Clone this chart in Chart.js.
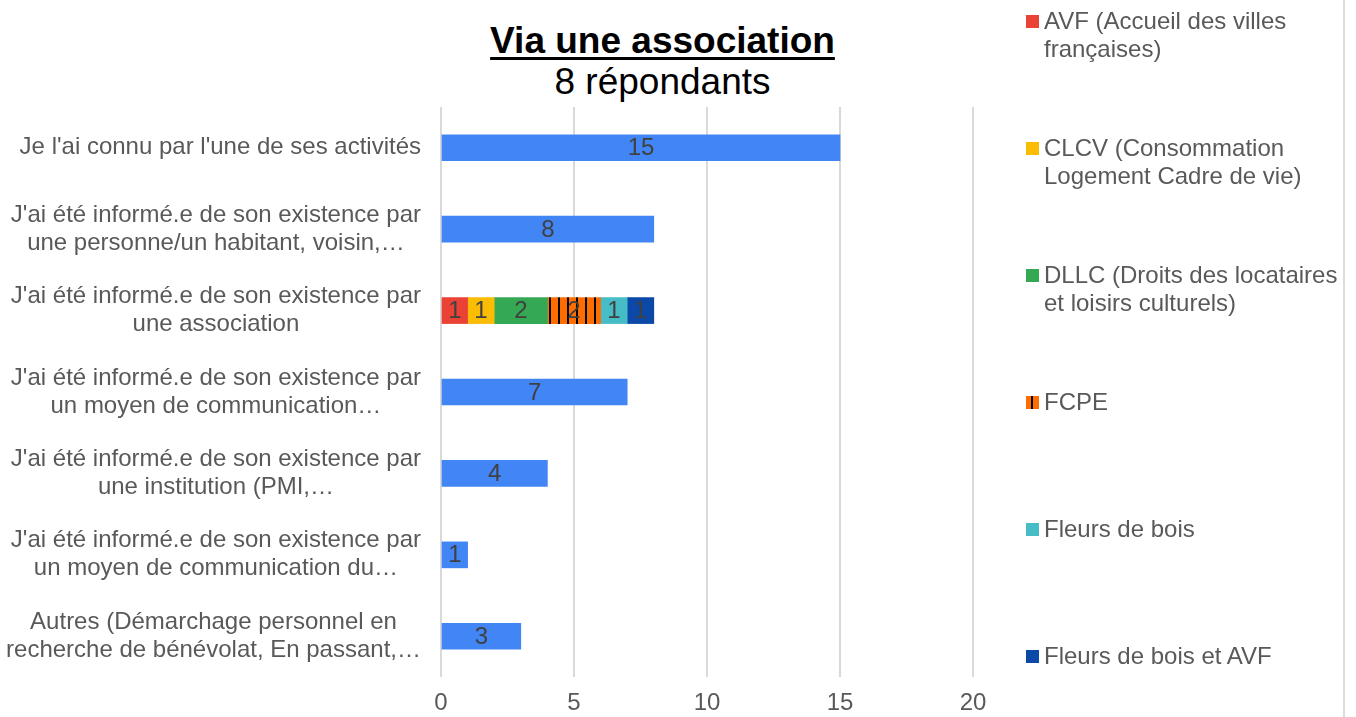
<!DOCTYPE html>
<html lang="fr">
<head>
<meta charset="utf-8">
<title>Via une association</title>
<script src="https://cdn.jsdelivr.net/npm/chart.js@4.4.1/dist/chart.umd.min.js"></script>
<style>
    html, body { margin: 0; padding: 0; background: #fff; }
    body { width: 1356px; height: 717px; position: relative; overflow: hidden; font-family: "Liberation Sans", Arial, sans-serif; }
    #zone { position: absolute; left: 0; top: 0; width: 1356px; height: 717px; }
    .titre { position: absolute; left: 0; width: 1325px; text-align: center; color: #000; font-size: 37px; line-height: 37px; }
    #titre1 { top: 22px; font-weight: bold; text-decoration: underline; text-decoration-thickness: 3px; text-underline-offset: 4px; }
    #titre2 { top: 63px; }
    .leg { position: absolute; left: 1026px; width: 318px; }
    .leg .carre { position: absolute; left: 0; top: 8px; width: 13px; height: 13px; }
    .leg .txt { position: absolute; left: 18px; top: 0; width: 300px; font-size: 24px; line-height: 28px; color: #595959; }
    #bord { position: absolute; left: 1343px; top: 0; width: 2px; height: 717px; background: #dcdcdc; }
</style>
</head>
<body>
<div id="titre1" class="titre">Via une association</div>
<div id="titre2" class="titre">8 répondants</div>
<div id="zone"><canvas id="grafico-association"></canvas></div>
<div id="legende"></div>
<div id="bord"></div>

<script>
// Catégories (axe vertical), une ligne par réponse
const categories = [
    ["Je l'ai connu par l'une de ses activités"],
    ["J'ai été informé.e de son existence par", "une personne/un habitant, voisin,…"],
    ["J'ai été informé.e de son existence par", "une association"],
    ["J'ai été informé.e de son existence par", "un moyen de communication…"],
    ["J'ai été informé.e de son existence par", "une institution (PMI,…"],
    ["J'ai été informé.e de son existence par", "un moyen de communication du…"],
    ["Autres (Démarchage personnel en", "recherche de bénévolat, En passant,…"]
];

// Série principale (barres bleues)
const valeursTotal = [15, 8, null, 7, 4, 1, 3];

// Détail de la ligne "une association"
const ligneAssociation = 2;
const associations = [
    "AVF (Accueil des villes françaises)",
    "CLCV (Consommation Logement Cadre de vie)",
    "DLLC (Droits des locataires et loisirs culturels)",
    "FCPE",
    "Fleurs de bois",
    "Fleurs de bois et AVF"
];
const valeursAssociations = [1, 1, 2, 2, 1, 1];
const couleursAssociations = ['#EA4335', '#FBBC04', '#34A853', 'rayures', '#46BDC6', '#0B48A8'];

// Graduations de l'axe horizontal
const graduationsX = [0, 5, 10, 15, 20];

const POLICE = '"Liberation Sans", Arial, sans-serif';
const GRIS_TEXTE = '#595959';

// Motif orange à rayures noires (FCPE)
function motifRayures(decalage) {
    const c = document.createElement('canvas');
    c.width = 9;
    c.height = 9;
    const g = c.getContext('2d');
    g.fillStyle = '#FF6D01';
    g.fillRect(0, 0, 9, 9);
    g.fillStyle = '#000';
    g.fillRect(decalage, 0, 2, 9);
    return g.createPattern(c, 'repeat');
}

function couleur(i) {
    return couleursAssociations[i] === 'rayures' ? motifRayures(0) : couleursAssociations[i];
}

// Construction des jeux de données
const datasets = [{
    label: 'Réponses',
    data: valeursTotal,
    backgroundColor: '#4285F4',
    barThickness: 26
}];
associations.forEach((nom, i) => {
    datasets.push({
        label: nom,
        data: categories.map((c, k) => k === ligneAssociation ? valeursAssociations[i] : null),
        backgroundColor: couleur(i),
        barThickness: 26
    });
});

// Étiquettes des valeurs au centre des barres
const etiquettesValeurs = {
    id: 'etiquettesValeurs',
    afterDatasetsDraw(chart) {
        const ctx = chart.ctx;
        ctx.save();
        ctx.font = '24px ' + POLICE;
        ctx.fillStyle = '#404040';
        ctx.textAlign = 'center';
        ctx.textBaseline = 'middle';
        chart.data.datasets.forEach((ds, d) => {
            chart.getDatasetMeta(d).data.forEach((barre, k) => {
                const v = ds.data[k];
                if (v === null || v === undefined) return;
                ctx.fillText(String(v), (barre.x + barre.base) / 2, barre.y + 1);
            });
        });
        ctx.restore();
    }
};

// Libellés de l'axe vertical (centrés, sur plusieurs lignes)
const libellesY = {
    id: 'libellesY',
    afterDraw(chart) {
        const ctx = chart.ctx;
        const echelle = chart.scales.y;
        const bordDroit = chart.chartArea.left - 20;
        ctx.save();
        ctx.font = '24px ' + POLICE;
        ctx.fillStyle = GRIS_TEXTE;
        ctx.textAlign = 'center';
        ctx.textBaseline = 'middle';
        categories.forEach((lignes, i) => {
            const y = echelle.getPixelForTick(i);
            const large = Math.max(...lignes.map(l => ctx.measureText(l).width));
            const cx = bordDroit - large / 2;
            lignes.forEach((l, j) => {
                ctx.fillText(l, cx, y + (j - (lignes.length - 1) / 2) * 28);
            });
        });
        ctx.restore();
    }
};

function cargarGrafico() {
    const ctx = document.getElementById('grafico-association').getContext('2d');
    new Chart(ctx, {
        type: 'bar',
        data: {
            labels: categories.map(l => l.join(' ')),
            datasets: datasets
        },
        options: {
            indexAxis: 'y',
            responsive: true,
            maintainAspectRatio: false,
            animation: false,
            layout: { padding: { left: 0, right: 383, top: 107, bottom: 0 } },
            plugins: {
                legend: { display: false },
                title: { display: false },
                tooltip: { enabled: false }
            },
            scales: {
                x: {
                    stacked: true,
                    min: 0,
                    max: 20,
                    afterBuildTicks: s => { s.ticks = graduationsX.map(v => ({ value: v })); },
                    afterFit: s => { s.height = 40; },
                    grid: { color: '#d9d9d9', lineWidth: 2, drawTicks: false },
                    border: { display: false },
                    ticks: {
                        padding: 12,
                        color: GRIS_TEXTE,
                        font: { family: POLICE, size: 24 }
                    }
                },
                y: {
                    stacked: true,
                    afterFit: s => { s.width = 441; },
                    grid: { display: false },
                    border: { display: false },
                    ticks: { display: false }
                }
            }
        },
        plugins: [etiquettesValeurs, libellesY]
    });
}

// Légende à droite (seulement les associations)
function cargarLegende() {
    const zone = document.getElementById('legende');
    associations.forEach((nom, i) => {
        const item = document.createElement('div');
        item.className = 'leg';
        item.style.top = (7 + i * 127) + 'px';
        const carre = document.createElement('div');
        carre.className = 'carre';
        if (couleursAssociations[i] === 'rayures') {
            carre.style.background = 'linear-gradient(to right, #FF6D01 0 5px, #000 5px 7px, #FF6D01 7px)';
        } else {
            carre.style.background = couleursAssociations[i];
        }
        const txt = document.createElement('div');
        txt.className = 'txt';
        txt.textContent = nom;
        item.appendChild(carre);
        item.appendChild(txt);
        zone.appendChild(item);
    });
}

document.addEventListener("DOMContentLoaded", cargarGrafico);
document.addEventListener("DOMContentLoaded", cargarLegende);
</script>
</body>
</html>
